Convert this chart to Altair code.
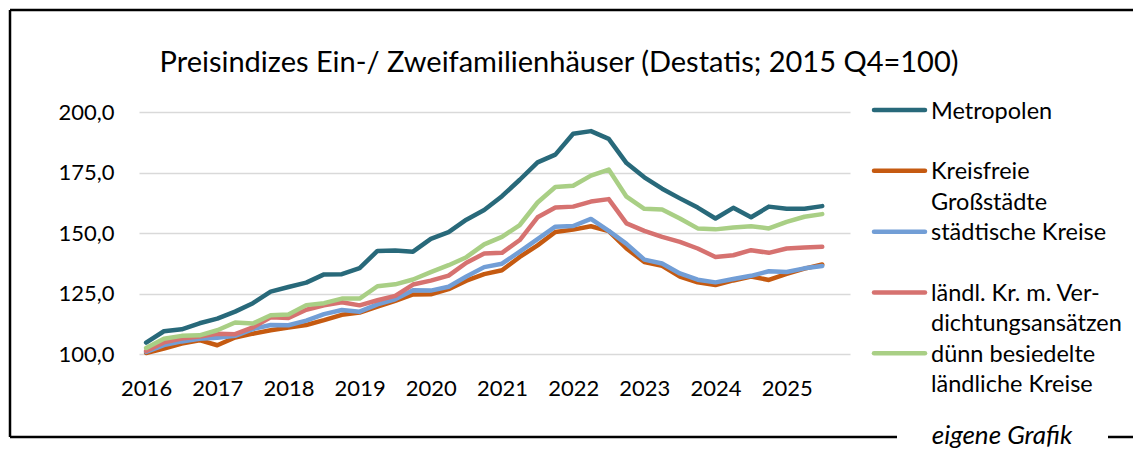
import altair as alt
import pandas as pd

# ---------------- data ----------------
TITLE = "Preisindizes Ein-/ Zweifamilienhäuser (Destatis; 2015 Q4=100)"
SOURCE = "eigene Grafik"

# quarters 2016 Q1 ... 2025 Q3
quarters = [f"{y} Q{q}" for y in range(2016, 2026) for q in range(1, 5)][:39]

series_names = [
    "Metropolen",
    "Kreisfreie Großstädte",
    "städtische Kreise",
    "ländl. Kr. m. Verdichtungsansätzen",
    "dünn besiedelte ländliche Kreise",
]
legend_lines = [
    ["Metropolen"],
    ["Kreisfreie", "Großstädte"],
    ["städtische Kreise"],
    ["ländl. Kr. m. Ver-", "dichtungsansätzen"],
    ["dünn besiedelte", "ländliche Kreise"],
]
colors = ["#28697A", "#C55A11", "#729ED6", "#D67270", "#A9CF85"]

metropolen = [104.7, 109.4, 110.2, 112.7, 114.6, 117.5, 121.0, 125.8, 127.7, 129.5,
              132.9, 133.0, 135.5, 142.6, 142.8, 142.3, 147.6, 150.4, 155.5, 159.5,
              165.2, 172.0, 179.2, 182.4, 191.0, 192.1, 188.9, 178.9, 173.0, 168.3,
              164.3, 160.5, 156.0, 160.4, 156.5, 160.9, 160.0, 160.0, 161.1]
kreisfreie = [100.4, 102.2, 104.3, 105.7, 103.6, 106.8, 108.4, 109.8, 110.9, 112.0,
              114.0, 116.2, 117.1, 119.6, 122.0, 124.6, 124.7, 126.8, 130.3, 133.0,
              134.6, 140.1, 144.9, 150.4, 151.4, 152.8, 150.8, 143.6, 138.0, 136.4,
              132.0, 129.6, 128.5, 130.4, 132.0, 130.6, 133.1, 135.3, 137.0]
staedtisch = [100.9, 103.7, 105.2, 106.3, 106.7, 107.5, 110.3, 112.0, 111.9, 113.8,
              116.5, 118.2, 117.5, 120.5, 122.6, 126.3, 126.2, 127.8, 132.0, 135.9,
              137.3, 142.3, 147.5, 152.6, 152.9, 155.8, 150.9, 145.5, 139.0, 137.4,
              133.3, 130.7, 129.6, 131.0, 132.3, 134.2, 133.9, 135.4, 136.4]
laendl_verd = [101.2, 104.8, 106.4, 107.2, 108.4, 108.2, 111.0, 115.2, 114.9, 118.3,
               120.1, 121.4, 120.1, 122.2, 124.0, 128.7, 130.3, 132.4, 137.7, 141.5,
               141.8, 147.1, 156.5, 160.5, 160.9, 163.0, 164.0, 154.0, 150.9, 148.4,
               146.3, 143.6, 140.1, 140.8, 142.9, 141.8, 143.6, 144.0, 144.3]
duenn = [102.5, 106.3, 107.5, 107.7, 109.8, 113.0, 112.6, 116.0, 116.3, 120.2,
         121.0, 122.9, 122.9, 128.0, 128.8, 130.8, 133.8, 136.7, 140.0, 145.3,
         148.4, 153.3, 162.6, 169.0, 169.5, 173.7, 176.2, 165.0, 160.0, 159.7,
         156.0, 151.9, 151.5, 152.3, 152.8, 151.9, 154.6, 156.7, 157.8]

year_ticks = list(range(2016, 2026))
y_ticks = [100, 125, 150, 175, 200]

# ---------------- tables ----------------
all_values = [metropolen, kreisfreie, staedtisch, laendl_verd, duenn]
rows = []
for s_idx, (name, vals) in enumerate(zip(series_names, all_values)):
    for q_idx, (qlab, v) in enumerate(zip(quarters, vals)):
        y, q = qlab.split(" Q")
        rows.append({"t": int(y) + (int(q) - 1) / 4, "series": name, "value": v, "ord": s_idx})
df = pd.DataFrame(rows)

leg_rows = []
for r, (name, lines) in enumerate(zip(series_names, legend_lines)):
    for li, txt in enumerate(lines):
        leg_rows.append({"series": name, "txt": txt, "pos": r + 0.5 * li, "first": li == 0})
leg_df = pd.DataFrame(leg_rows)

FONT = "Lato"
W, H = 711, 242
color_scale = alt.Scale(domain=series_names, range=colors)

lines = alt.Chart(df).mark_line(strokeWidth=4.5, strokeCap="round", strokeJoin="round").encode(
    x=alt.X("t:Q",
            scale=alt.Scale(domain=[2015.9, 2025.89], nice=False, zero=False),
            axis=alt.Axis(values=year_ticks, format="d", grid=False, domain=False, ticks=False,
                          labelPadding=24, labelBaseline="top", title=None, labelFlush=False,
                          labelOverlap=False)),
    y=alt.Y("value:Q",
            scale=alt.Scale(domain=[100, 200], nice=False, zero=False),
            axis=alt.Axis(values=y_ticks, grid=True, gridColor="#D9D9D9", gridWidth=1.5,
                          domain=False, ticks=False, labelPadding=25, title=None,
                          labelExpr="replace(format(datum.value, '.1f'), '.', ',')")),
    color=alt.Color("series:N", scale=color_scale, legend=None),
    detail="ord:O",
)

leg_y = alt.Scale(domain=[0, 4], range=[-2, 241.3])
leg_sym = alt.Chart(leg_df).transform_filter("datum.first").mark_rule(
    strokeWidth=4.5, strokeCap="round").encode(
    x=alt.value(735), x2=alt.value(786),
    y=alt.Y("pos:Q", scale=leg_y, axis=None),
    color=alt.Color("series:N", scale=color_scale, legend=None),
)
leg_txt = alt.Chart(leg_df).mark_text(
    align="left", baseline="middle", font=FONT, fontSize=23.5, color="black", dy=1.5).encode(
    x=alt.value(792),
    y=alt.Y("pos:Q", scale=leg_y, axis=None),
    text="txt:N",
)

dummy = pd.DataFrame({"k": [0]})
title_txt = alt.Chart(pd.DataFrame({"t": [TITLE]})).mark_text(
    align="center", baseline="alphabetic", font=FONT, fontSize=29, color="black").encode(
    x=alt.value(420), y=alt.value(-40), text="t:N")
src_txt = alt.Chart(pd.DataFrame({"t": [SOURCE]})).mark_text(
    align="center", baseline="alphabetic", font=FONT, fontSize=26, fontStyle="italic",
    color="black").encode(x=alt.value(863), y=alt.value(332), text="t:N")

frame_style = dict(color="black", strokeWidth=2.5)
f_top = alt.Chart(dummy).mark_rule(**frame_style).encode(
    x=alt.value(-129), x2=alt.value(1010), y=alt.value(-102))
f_left = alt.Chart(dummy).mark_rule(**frame_style).encode(
    x=alt.value(-129), y=alt.value(-102), y2=alt.value(325))
f_bot1 = alt.Chart(dummy).mark_rule(**frame_style).encode(
    x=alt.value(-129), x2=alt.value(758), y=alt.value(325))
f_bot2 = alt.Chart(dummy).mark_rule(**frame_style).encode(
    x=alt.value(969), x2=alt.value(1010), y=alt.value(325))

chart = alt.layer(
    lines, leg_sym, leg_txt, title_txt, src_txt, f_top, f_left, f_bot1, f_bot2
).resolve_scale(y="independent").properties(
    width=W, height=H,
    autosize=alt.AutoSizeParams(type="none"),
    padding={"left": 131, "top": 104, "right": 283, "bottom": 97},
    background="white",
).configure_view(stroke=None).configure_axis(
    labelFont=FONT, labelFontSize=22, labelColor="black"
)

chart.save("out.html", embed_options={"renderer": "svg", "actions": False})
